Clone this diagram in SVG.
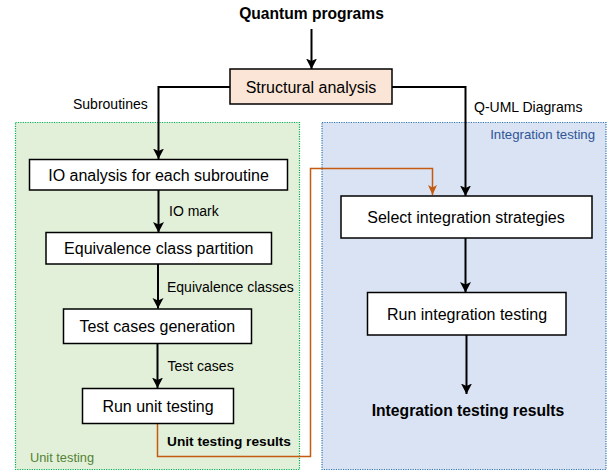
<svg xmlns="http://www.w3.org/2000/svg" width="616" height="475" viewBox="0 0 616 475">
<style>
text{font-family:"Liberation Sans",Arial,sans-serif;fill:#000}
.box{fill:#fff;stroke:#000;stroke-width:1.5}
.bt{font-size:16px;text-anchor:middle}
.lb{font-size:14px}
.bold{font-weight:bold}
.ln{fill:none;stroke:#000;stroke-width:2}
.or{fill:none;stroke:#C55A11;stroke-width:1.5}
</style>
<defs>
<marker id="ah" markerUnits="userSpaceOnUse" markerWidth="12" markerHeight="12" refX="10.5" refY="6" orient="auto">
<path d="M0,0.5 L10.5,6 L0,11.5 L2.5,6 z" fill="#000"/>
</marker>
<marker id="aho" markerUnits="userSpaceOnUse" markerWidth="12" markerHeight="12" refX="10" refY="6" orient="auto">
<path d="M0,1.5 L10,6 L0,10.5 L2.5,6 z" fill="#C55A11"/>
</marker>
</defs>
<g id="unit-container">
<rect x="15.5" y="122.5" width="284" height="347" fill="#E2F0D9" stroke="#00B050" stroke-width="1.2" stroke-dasharray="1.2 1.2"/>
<text x="30" y="462" style="font-size:12.8px;fill:#548235">Unit testing</text>
</g>
<g id="integration-container">
<rect x="322" y="122.5" width="284" height="347" fill="#DAE3F3" stroke="#2E75B6" stroke-width="1.2" stroke-dasharray="1.2 1.2"/>
<text x="595" y="139" style="font-size:13.2px;fill:#2F5597;text-anchor:end">Integration testing</text>
</g>
<g id="connectors">
<line class="ln" x1="311.5" y1="29" x2="311.5" y2="69" marker-end="url(#ah)"/>
<polyline class="ln" points="230,87 158.5,87 158.5,159" marker-end="url(#ah)"/>
<polyline class="ln" points="392,87 465.5,87 465.5,196" marker-end="url(#ah)"/>
<line class="ln" x1="158.5" y1="190" x2="158.5" y2="232.5" marker-end="url(#ah)"/>
<line class="ln" x1="158" y1="264" x2="158" y2="308.5" marker-end="url(#ah)"/>
<line class="ln" x1="157.5" y1="343.5" x2="157.5" y2="388" marker-end="url(#ah)"/>
<line class="ln" x1="465.5" y1="238" x2="465.5" y2="292.5" marker-end="url(#ah)"/>
<line class="ln" x1="466.5" y1="335" x2="466.5" y2="394" marker-end="url(#ah)"/>
<polyline class="or" points="157.5,423.5 157.5,456.5 310.5,456.5 310.5,168.5 432.5,168.5 432.5,195" marker-end="url(#aho)"/>
<text class="lb" x="73" y="109">Subroutines</text>
<text class="lb" x="474" y="112">Q-UML Diagrams</text>
<text class="lb" x="169" y="216">IO mark</text>
<text class="lb" x="167" y="291.5">Equivalence classes</text>
<text class="lb" x="167.5" y="370.5">Test cases</text>
</g>
<g id="quantum-programs">
<text class="bt bold" x="311.5" y="19" style="font-size:15.6px">Quantum programs</text>
</g>
<g id="structural-analysis">
<rect x="230" y="69" width="162" height="35" fill="#FBE5D6" stroke="#000" stroke-width="1.5"/>
<text class="bt" x="311" y="92.5">Structural analysis</text>
</g>
<g id="io-analysis">
<rect class="box" x="29.5" y="159.5" width="258" height="30.5"/>
<text class="bt" x="158.5" y="180.5">IO analysis for each subroutine</text>
</g>
<g id="equivalence-partition">
<rect class="box" x="46" y="232.5" width="225.5" height="31.5"/>
<text class="bt" x="158.8" y="254">Equivalence class partition</text>
</g>
<g id="test-generation">
<rect class="box" x="63.5" y="309" width="188" height="34.5"/>
<text class="bt" x="157.3" y="331.5">Test cases generation</text>
</g>
<g id="run-unit">
<rect class="box" x="82.5" y="388.5" width="151" height="35"/>
<text class="bt" x="158" y="411.5">Run unit testing</text>
</g>
<g id="unit-results">
<text class="bold" x="167" y="446" style="font-size:13.7px">Unit testing results</text>
</g>
<g id="select-strategies">
<rect class="box" x="341" y="196" width="251" height="42"/>
<text class="bt" x="466" y="222.5">Select integration strategies</text>
</g>
<g id="run-integration">
<rect class="box" x="367.5" y="292.5" width="198.5" height="42.5"/>
<text class="bt" x="467" y="320">Run integration testing</text>
</g>
<g id="integration-results">
<text class="bt bold" x="468" y="416" style="font-size:15.7px">Integration testing results</text>
</g>
</svg>
